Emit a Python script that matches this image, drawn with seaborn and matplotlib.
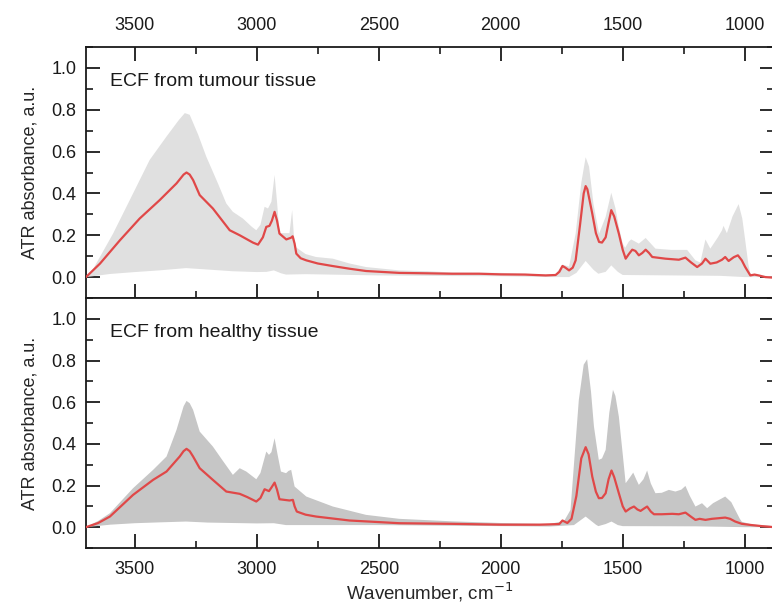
import numpy as np
import pandas as pd
import matplotlib
matplotlib.use("Agg")
import matplotlib.pyplot as plt
from matplotlib.ticker import MultipleLocator
import seaborn as sns

# ---- ECF from tumour tissue: mean spectrum and min/max envelope ----
tumour_wn = [3700, 3643, 3561, 3480, 3398, 3329, 3300, 3288, 3275, 3261, 3234, 3180, 3111, 3070,
             3016, 2995, 2975, 2961, 2948, 2938, 2927, 2917, 2907, 2879, 2860, 2853, 2845, 2838,
             2820, 2797, 2750, 2690, 2620, 2552, 2416, 2300, 2200, 2088, 2000, 1900, 1816, 1775,
             1760, 1747, 1735, 1720, 1705, 1693, 1675, 1660, 1652, 1645, 1625, 1610, 1597, 1585,
             1570, 1558, 1547, 1535, 1516, 1500, 1488, 1475, 1461, 1448, 1434, 1420, 1406, 1392,
             1379, 1325, 1270, 1243, 1220, 1195, 1175, 1161, 1141, 1115, 1093, 1080, 1066, 1045,
             1028, 1012, 998, 977, 960, 943, 916, 880]
tumour_mean = [0.0, 0.064, 0.176, 0.28, 0.368, 0.448, 0.49, 0.50, 0.49, 0.464, 0.392, 0.328, 0.224, 0.20,
               0.165, 0.155, 0.19, 0.24, 0.245, 0.27, 0.312, 0.27, 0.208, 0.18, 0.188, 0.195, 0.16, 0.112,
               0.09, 0.08, 0.065, 0.053, 0.04, 0.029, 0.02, 0.018, 0.016, 0.016, 0.013, 0.012, 0.008, 0.01,
               0.025, 0.053, 0.045, 0.032, 0.045, 0.08, 0.25, 0.40, 0.435, 0.42, 0.304, 0.21, 0.168, 0.165,
               0.19, 0.26, 0.32, 0.29, 0.208, 0.13, 0.088, 0.11, 0.131, 0.125, 0.104, 0.115, 0.131, 0.115,
               0.096, 0.088, 0.083, 0.093, 0.07, 0.048, 0.065, 0.088, 0.064, 0.07, 0.083, 0.096, 0.077, 0.095,
               0.104, 0.08, 0.048, 0.008, 0.012, 0.008, 0.0, -0.003]

tumour_hi_wn = [3700, 3670, 3643, 3589, 3507, 3439, 3370, 3320, 3295, 3275, 3240, 3207, 3160, 3125,
                3098, 3057, 3020, 3002, 2985, 2968, 2954, 2940, 2927, 2917, 2907, 2866, 2855, 2848,
                2841, 2800, 2757, 2688, 2620, 2552, 2416, 2300, 2200, 2000, 1816, 1775, 1747, 1720,
                1693, 1670, 1652, 1638, 1620, 1597, 1570, 1547, 1530, 1516, 1500, 1490, 1475, 1465,
                1434, 1406, 1366, 1300, 1270, 1236, 1202, 1182, 1161, 1141, 1110, 1093, 1087, 1073,
                1050, 1025, 1010, 998, 985, 977, 940, 880]
tumour_hi = [0.0, 0.04, 0.096, 0.208, 0.40, 0.56, 0.672, 0.75, 0.784, 0.776, 0.68, 0.576, 0.45, 0.352,
             0.312, 0.28, 0.24, 0.224, 0.25, 0.336, 0.328, 0.36, 0.488, 0.36, 0.21, 0.21, 0.32, 0.2,
             0.144, 0.11, 0.096, 0.088, 0.065, 0.048, 0.032, 0.028, 0.022, 0.02, 0.012, 0.014, 0.06, 0.05,
             0.208, 0.45, 0.573, 0.528, 0.35, 0.208, 0.288, 0.403, 0.33, 0.24, 0.16, 0.14, 0.17, 0.18,
             0.16, 0.187, 0.136, 0.13, 0.13, 0.13, 0.08, 0.07, 0.18, 0.136, 0.19, 0.224, 0.245, 0.21,
             0.29, 0.349, 0.28, 0.176, 0.06, 0.016, 0.008, 0.003]

tumour_lo_wn = [3700, 3600, 3500, 3400, 3290, 3200, 3100, 3000, 2960, 2930, 2900, 2880, 2800, 2700,
                2500, 2200, 2000, 1800, 1720, 1690, 1652, 1620, 1600, 1570, 1547, 1520, 1500, 1300,
                1100, 1000, 880]
tumour_lo = [0.0, 0.015, 0.024, 0.032, 0.043, 0.036, 0.028, 0.024, 0.025, 0.032, 0.018, 0.012, 0.014, 0.012,
             0.008, 0.005, 0.004, 0.0, 0.0, 0.02, 0.077, 0.035, 0.016, 0.025, 0.056, 0.025, 0.01, 0.008,
             0.006, 0.0, 0.0]

# ---- ECF from healthy tissue: mean spectrum and min/max envelope ----
healthy_wn = [3700, 3650, 3602, 3507, 3425, 3370, 3316, 3300, 3288, 3275, 3261, 3234, 3180, 3125,
              3070, 3040, 3002, 2985, 2968, 2950, 2940, 2927, 2917, 2907, 2866, 2852, 2845, 2836,
              2800, 2757, 2620, 2416, 2200, 2000, 1841, 1760, 1747, 1727, 1710, 1690, 1670, 1652,
              1640, 1625, 1610, 1598, 1585, 1570, 1558, 1546, 1535, 1516, 1500, 1488, 1470, 1454,
              1440, 1427, 1412, 1400, 1385, 1372, 1340, 1297, 1270, 1243, 1220, 1202, 1185, 1161,
              1135, 1107, 1080, 1060, 1039, 1012, 971, 930, 880]
healthy_mean = [0.0, 0.02, 0.051, 0.155, 0.227, 0.267, 0.339, 0.365, 0.376, 0.365, 0.339, 0.283, 0.227, 0.171,
                0.16, 0.145, 0.123, 0.14, 0.182, 0.173, 0.19, 0.214, 0.18, 0.134, 0.128, 0.131, 0.1, 0.075,
                0.06, 0.051, 0.032, 0.019, 0.016, 0.012, 0.012, 0.015, 0.032, 0.02, 0.04, 0.15, 0.33, 0.384,
                0.35, 0.243, 0.17, 0.139, 0.14, 0.163, 0.23, 0.272, 0.24, 0.163, 0.1, 0.075, 0.09, 0.099,
                0.085, 0.078, 0.09, 0.099, 0.075, 0.062, 0.062, 0.064, 0.062, 0.07, 0.05, 0.035, 0.04, 0.035,
                0.04, 0.043, 0.046, 0.04, 0.027, 0.016, 0.01, 0.005, 0.0]

healthy_hi_wn = [3700, 3650, 3602, 3507, 3425, 3370, 3329, 3300, 3288, 3275, 3261, 3234, 3180, 3140,
                 3098, 3070, 3043, 3002, 2985, 2961, 2950, 2940, 2927, 2915, 2901, 2880, 2870, 2859,
                 2845, 2797, 2688, 2552, 2416, 2200, 2000, 1800, 1740, 1714, 1680, 1660, 1646, 1630,
                 1618, 1598, 1585, 1570, 1555, 1540, 1530, 1516, 1500, 1488, 1470, 1457, 1445, 1434,
                 1415, 1400, 1385, 1366, 1340, 1311, 1284, 1260, 1243, 1225, 1202, 1175, 1154, 1130,
                 1080, 1055, 1039, 1020, 1012, 971, 880]
healthy_hi = [0.0, 0.03, 0.067, 0.187, 0.275, 0.339, 0.467, 0.58, 0.606, 0.595, 0.563, 0.459, 0.387, 0.32,
              0.251, 0.283, 0.267, 0.23, 0.26, 0.363, 0.347, 0.36, 0.427, 0.35, 0.267, 0.259, 0.27, 0.275,
              0.195, 0.147, 0.099, 0.059, 0.04, 0.028, 0.02, 0.015, 0.03, 0.083, 0.611, 0.78, 0.806, 0.65,
              0.483, 0.323, 0.33, 0.371, 0.55, 0.659, 0.63, 0.531, 0.35, 0.211, 0.24, 0.262, 0.23, 0.203,
              0.23, 0.272, 0.21, 0.163, 0.165, 0.179, 0.171, 0.18, 0.198, 0.15, 0.099, 0.115, 0.091, 0.115,
              0.147, 0.12, 0.083, 0.04, 0.026, 0.013, 0.005]

healthy_lo_wn = [3700, 3600, 3500, 3400, 3290, 3200, 3000, 2930, 2880, 2700, 2500, 2000, 1800, 1700,
                 1652, 1610, 1600, 1570, 1546, 1520, 1500, 1200, 1000, 880]
healthy_lo = [0.0, 0.012, 0.019, 0.023, 0.027, 0.022, 0.018, 0.019, 0.01, 0.01, 0.01, 0.005, 0.003, 0.01,
              0.051, 0.012, 0.005, 0.015, 0.027, 0.01, 0.005, 0.004, 0.0, 0.0]

panel_titles = ["ECF from tumour tissue", "ECF from healthy tissue"]
x_ticks = [3500, 3000, 2500, 2000, 1500, 1000]
y_ticks = [0.0, 0.2, 0.4, 0.6, 0.8, 1.0]

sns.set_style("ticks")
plt.rcParams["font.family"] = ["Liberation Sans", "DejaVu Sans"]
plt.rcParams["axes.linewidth"] = 1.3
plt.rcParams["text.color"] = "#1a1a1a"

LINE_RED = "#e04848"
panels = [
    dict(title=panel_titles[0], wn=tumour_wn, mean=tumour_mean, hi_wn=tumour_hi_wn, hi=tumour_hi,
         lo_wn=tumour_lo_wn, lo=tumour_lo, band="#e0e0e0"),
    dict(title=panel_titles[1], wn=healthy_wn, mean=healthy_mean, hi_wn=healthy_hi_wn, hi=healthy_hi,
         lo_wn=healthy_lo_wn, lo=healthy_lo, band="#c6c6c6"),
]

fig = plt.figure(figsize=(7.72, 6.06), dpi=100)
ax_top = fig.add_axes([86 / 772, 1 - 298 / 606, 688 / 772, 251 / 606])
ax_bot = fig.add_axes([86 / 772, 1 - 548 / 606, 688 / 772, 250 / 606], sharex=ax_top)

for ax, p in zip([ax_top, ax_bot], panels):
    # min/max envelope as a closed polygon: upper edge forward, lower edge back
    band_x = np.concatenate([p["hi_wn"], p["lo_wn"][::-1]])
    band_y = np.concatenate([p["hi"], p["lo"][::-1]])
    ax.fill(band_x, band_y, color=p["band"], lw=0, zorder=1)
    df = pd.DataFrame({"wn": p["wn"], "absorbance": p["mean"]})
    sns.lineplot(data=df, x="wn", y="absorbance", ax=ax, color=LINE_RED, lw=1.6,
                 sort=False, zorder=3)
    ax.set_ylim(-0.1, 1.1)
    ax.set_yticks(y_ticks)
    ax.yaxis.set_minor_locator(MultipleLocator(0.1))
    ax.set_yticklabels([f"{v:.1f}" for v in y_ticks])
    ax.set_ylabel("ATR absorbance, a.u.", fontsize=13, labelpad=9)
    ax.text(3600, 0.915, p["title"], fontsize=14, ha="left", va="baseline", zorder=4)
    for s in ax.spines.values():
        s.set_visible(True)
        s.set_color("#1a1a1a")

ax_top.set_xlim(3700, 880)
ax_top.set_xticks(x_ticks)
ax_top.xaxis.set_minor_locator(MultipleLocator(250))

# top panel: labelled ticks along the top edge, plain ticks along the bottom
ax_top.tick_params(axis="x", which="both", direction="in", top=True, bottom=True,
                   labeltop=True, labelbottom=False)
ax_top.set_xlabel("")
# bottom panel: labelled ticks along the bottom edge only
ax_bot.tick_params(axis="x", which="both", direction="in", top=False, bottom=True,
                   labeltop=False, labelbottom=True)
ax_bot.set_xlabel("Wavenumber, cm$^{-1}$", fontsize=13.5, labelpad=2)

for ax in (ax_top, ax_bot):
    ax.tick_params(axis="y", which="both", direction="in", left=True, right=True)
    ax.tick_params(which="major", length=10, width=1.3, labelsize=13, color="#1a1a1a",
                   labelcolor="#1a1a1a")
    ax.tick_params(which="minor", length=5, width=1.2, color="#1a1a1a")
    ax.tick_params(axis="x", which="major", pad=9)
    ax.tick_params(axis="y", which="major", pad=7)

fig.savefig("out.png", dpi=100)
